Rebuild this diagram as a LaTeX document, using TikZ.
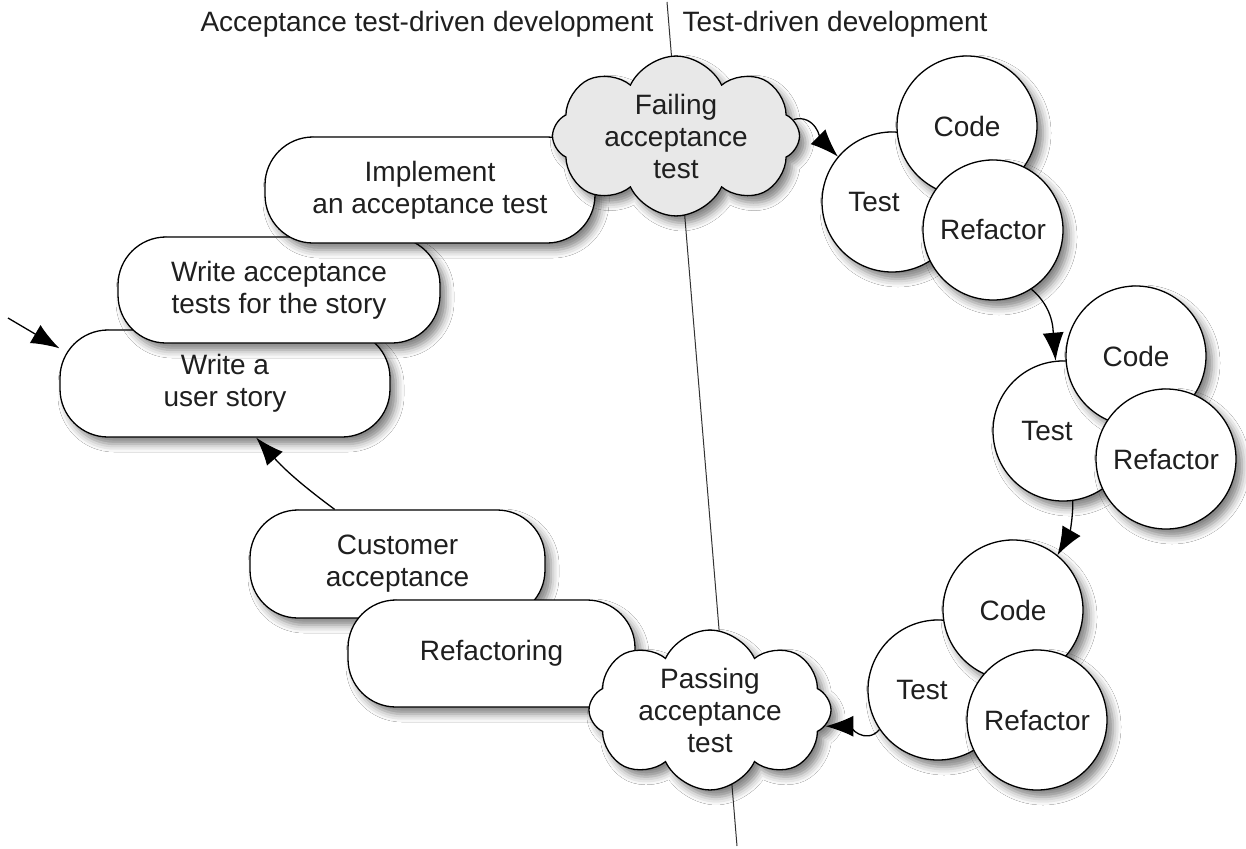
\documentclass[tikz,border=0pt]{standalone}
\usepackage{fontspec}
\setmainfont{Liberation Sans}
\usetikzlibrary{shapes.symbols,shadows,shadows.blur,arrows.meta}
\begin{document}
\begin{tikzpicture}[x=1pt,y=-1pt,
  txt/.style={font=\fontsize{28}{32}\selectfont, align=center, text=black!88},
  shad/.style={blur shadow={shadow xshift=6pt, shadow yshift=-7pt, shadow blur radius=8pt, shadow opacity=50}},
  box/.style={txt, draw=black, line width=1.3pt, fill=white, rounded corners=48pt, inner sep=0pt, shad},
  cloudn/.style={txt, cloud, cloud puffs=8, cloud puff arc=130, cloud ignores aspect, draw=black, line width=1.3pt, inner sep=0pt, shad},
  circ/.style={txt, circle, draw=black, line width=1.3pt, fill=white, minimum size=140pt, inner sep=0pt, shad},
  arr/.style={line width=1.3pt, -{Latex[length=28pt,width=21pt]}},
  divider/.style={line width=1pt, black!80}
]
\useasboundingbox (0,0) rectangle (1246,848);
\fill[white] (0,0) rectangle (1246,848);

% divider
\coordinate (dtop) at (667,2);
\coordinate (dbot) at (737,846);
\draw[divider] (dtop) -- (dbot);

% headings
\node[txt, anchor=east] (hatdd) at (657,24) {Acceptance test-driven development};
\node[txt, anchor=west] (htdd) at (679,24) {Test-driven development};

% ATDD boxes (upper)
\node[box, minimum width=330pt, minimum height=107pt] (story) at (225,383.5) {Write a\\user story};
\node[box, minimum width=322pt, minimum height=106pt] (write) at (279,290) {Write acceptance\\tests for the story};
\node[box, minimum width=330pt, minimum height=106pt] (impl) at (430,190) {Implement\\an acceptance test};
\node[cloudn, fill=black!9, minimum width=247pt, minimum height=150pt] (fail) at (676,136) {Failing\\acceptance\\test};

% ATDD boxes (lower)
\node[box, minimum width=295pt, minimum height=108pt] (cust) at (397.5,564) {Customer\\acceptance};
\node[box, minimum width=287pt, minimum height=107pt] (refac) at (491.5,653.5) {Refactoring};
\node[cloudn, fill=white, minimum width=242pt, minimum height=142pt] (pass) at (710,710) {Passing\\acceptance\\test};

% TDD cycles
\node[circ, label={[txt, xshift=-18pt]center:Test}] (t1) at (892,202) {};
\node[circ] (c1) at (967,126) {Code};
\node[circ] (r1) at (993,230) {Refactor};

\node[circ, label={[txt, xshift=-16pt]center:Test}] (t2) at (1063,431) {};
\node[circ] (c2) at (1136,356) {Code};
\node[circ] (r2) at (1166,459) {Refactor};

\node[circ, label={[txt, xshift=-16pt]center:Test}] (t3) at (938,690) {};
\node[circ] (c3) at (1013,610) {Code};
\node[circ] (r3) at (1037,720) {Refactor};

% connectors
\coordinate (start) at (8,318);
\draw[arr] (start) -- (story.168);
\draw[arr] (fail.8) to[out=15,in=135] (t1.140);
\draw[arr] (r1.-57) to[out=-40,in=95] (t2.96);
\draw[arr] (t2.-82) to[out=-90,in=60] (c3.51);
\draw[arr] (t3.214) to[out=230,in=0] (pass.-8);
\draw[arr] (cust.139) to[bend left=6] (story.-60);
\end{tikzpicture}
\end{document}
